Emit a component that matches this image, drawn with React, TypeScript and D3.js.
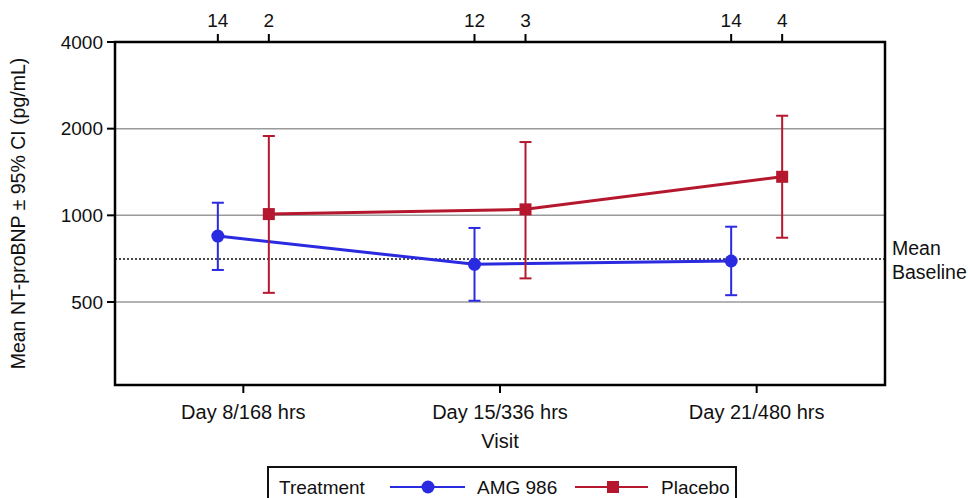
import React from 'react';
import { scaleLog, scalePoint, line } from 'd3';

const visits = ['Day 8/168 hrs', 'Day 15/336 hrs', 'Day 21/480 hrs'];
const amgMean = [847, 676, 694];
const amgLower = [646, 505, 528];
const amgUpper = [1106, 904, 913];
const placeboMean = [1010, 1049, 1361];
const placeboLower = [538, 604, 836];
const placeboUpper = [1886, 1797, 2218];
const amgN = [14, 12, 14];
const placeboN = [2, 3, 4];
const meanBaseline = 705;
const yTicks = [500, 1000, 2000, 4000];

const BLUE = '#2a2ae0';
const RED = '#b5182e';
const FONT = 'Liberation Sans, Arial, sans-serif';

const left = 115;
const right = 885;
const top = 42;
const bottom = 385;
const offset = 25.5;

const App = () => {
  const x = scalePoint<string>().domain(visits).range([left, right]).padding(0.5);
  const y = scaleLog().domain([500, 4000]).range([302, top]);

  const series = [
    { name: 'AMG 986', color: BLUE, mean: amgMean, lo: amgLower, hi: amgUpper, n: amgN, dx: -offset, shape: 'circle' },
    { name: 'Placebo', color: RED, mean: placeboMean, lo: placeboLower, hi: placeboUpper, n: placeboN, dx: offset, shape: 'square' },
  ];

  const lineGen = line<[number, number]>().x((d) => d[0]).y((d) => d[1]);

  return (
    <div style={{ position: 'fixed', left: 0, top: 0 }}>
      <svg width={968} height={498} style={{ display: 'block', background: '#fff' }} fontFamily={FONT}>
        {/* grid */}
        {yTicks.slice(0, 3).map((t) => (
          <line key={t} x1={left} x2={right} y1={y(t)} y2={y(t)} stroke="#9a9a9a" strokeWidth={1.5} />
        ))}
        {/* baseline */}
        <line x1={left} x2={right} y1={y(meanBaseline)} y2={y(meanBaseline)} stroke="#111" strokeWidth={1.5} strokeDasharray="2,2" />
        <text x={892} y={255} fontSize={19.5} fill="#111">Mean</text>
        <text x={892} y={279} fontSize={19.5} fill="#111">Baseline</text>

        {/* series */}
        {series.map((s) => {
          const pts = s.mean.map((m, i) => [(x(visits[i]) as number) + s.dx, y(m)] as [number, number]);
          return (
            <g key={s.name}>
              {s.mean.map((m, i) => {
                const cx = (x(visits[i]) as number) + s.dx;
                return (
                  <g key={i} stroke={s.color} strokeWidth={2}>
                    <line x1={cx} x2={cx} y1={y(s.lo[i])} y2={y(s.hi[i])} />
                    <line x1={cx - 6} x2={cx + 6} y1={y(s.lo[i])} y2={y(s.lo[i])} />
                    <line x1={cx - 6} x2={cx + 6} y1={y(s.hi[i])} y2={y(s.hi[i])} />
                  </g>
                );
              })}
              <path d={lineGen(pts) || ''} fill="none" stroke={s.color} strokeWidth={3} />
              {pts.map((p, i) =>
                s.shape === 'circle' ? (
                  <circle key={i} cx={p[0]} cy={p[1]} r={6.5} fill={s.color} />
                ) : (
                  <rect key={i} x={p[0] - 6} y={p[1] - 6} width={12} height={12} fill={s.color} />
                )
              )}
            </g>
          );
        })}

        {/* frame */}
        <rect x={left} y={top} width={right - left} height={bottom - top} fill="none" stroke="#000" strokeWidth={2.5} />

        {/* y axis */}
        {yTicks.map((t) => (
          <g key={t}>
            <line x1={left - 8} x2={left} y1={y(t)} y2={y(t)} stroke="#000" strokeWidth={2} />
            <text x={left - 12} y={y(t)} dy="0.35em" textAnchor="end" fontSize={19} fill="#111">{t}</text>
          </g>
        ))}
        <text transform={`translate(25, ${(top + bottom) / 2}) rotate(-90)`} textAnchor="middle" fontSize={19.5} fill="#111">
          Mean NT-proBNP ± 95% CI (pg/mL)
        </text>

        {/* bottom axis */}
        {visits.map((v) => (
          <g key={v}>
            <line x1={x(v)} x2={x(v)} y1={bottom} y2={bottom + 8} stroke="#000" strokeWidth={2} />
            <text x={x(v)} y={419} textAnchor="middle" fontSize={20} fill="#111">{v}</text>
          </g>
        ))}
        <text x={(left + right) / 2} y={448} textAnchor="middle" fontSize={20} fill="#111">Visit</text>

        {/* top axis with counts */}
        {series.map((s) =>
          s.n.map((n, i) => {
            const cx = (x(visits[i]) as number) + s.dx;
            return (
              <g key={s.name + i}>
                <line x1={cx} x2={cx} y1={top - 8} y2={top} stroke="#000" strokeWidth={2} />
                <text x={cx} y={27} textAnchor="middle" fontSize={19} fill="#111">{n}</text>
              </g>
            );
          })
        )}

        {/* legend */}
        <rect x={268} y={467} width={468} height={40} fill="none" stroke="#111" strokeWidth={2} />
        <text x={279} y={494} fontSize={19} fill="#111">Treatment</text>
        <line x1={390} x2={465} y1={487} y2={487} stroke={BLUE} strokeWidth={2} />
        <circle cx={428} cy={487} r={6.5} fill={BLUE} />
        <text x={477} y={494} fontSize={19} fill="#111">AMG 986</text>
        <line x1={575} x2={648} y1={487} y2={487} stroke={RED} strokeWidth={2} />
        <rect x={607} y={481} width={12} height={12} fill={RED} />
        <text x={661} y={494} fontSize={19} fill="#111">Placebo</text>
      </svg>
    </div>
  );
};

export default App;
